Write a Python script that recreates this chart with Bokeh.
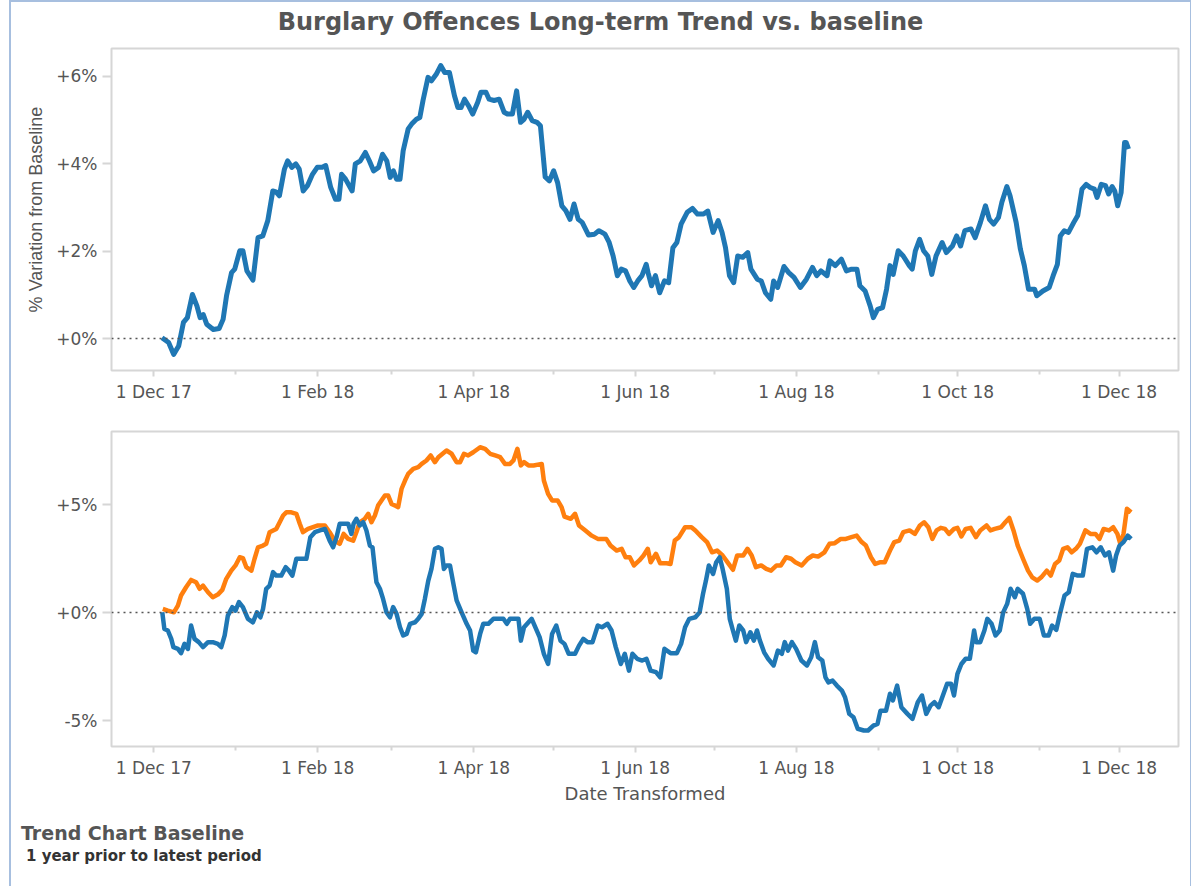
import pandas as pd
from bokeh.plotting import figure
from bokeh.models import Range1d, FixedTicker, Span, Div
from bokeh.layouts import column
from bokeh.embed import file_html
from bokeh.resources import INLINE

# ---------------- data (x = days since 1 Dec 2017, y = % variation) ----------------
top_day = [3.1, 5.6, 7.5, 9.4, 11.2, 12.7, 14.6, 16.3, 17.5, 18.7, 20.0, 22.5, 24.7, 26.2, 27.5, 29.4, 30.6, 32.5, 33.7, 35.2,
           37.5, 39.4, 41.2, 43.1, 45.0, 46.2, 47.5, 49.4, 50.6, 52.2, 53.7, 55.0, 56.5, 58.1, 60.0, 61.8, 63.7, 65.0, 66.9, 68.7,
           70.0, 71.0, 72.5, 75.0, 76.2, 78.1, 80.0, 81.5, 83.1, 85.0, 86.5, 88.1, 89.4, 90.6, 91.8, 93.1, 94.3, 96.2, 97.5, 99.3,
           100.6, 101.8, 103.7, 105.0, 106.8, 108.5, 110.0, 111.8, 113.7, 115.0, 116.2, 117.5, 119.0, 120.6, 122.5, 123.7, 125.6, 126.8, 128.7, 130.6,
           132.5, 133.7, 135.6, 137.2, 138.7, 140.0, 141.4, 143.1, 144.9, 146.2, 148.0, 149.6, 151.2, 152.7, 154.3, 155.8, 157.4, 158.9, 160.5, 162.0,
           164.4, 166.7, 168.3, 170.6, 172.2, 173.7, 175.3, 176.8, 178.4, 180.0, 181.5, 183.0, 184.6, 186.2, 186.9, 188.2, 189.7, 191.3, 193.1, 194.7,
           196.3, 197.8, 199.4, 201.7, 203.7, 205.6, 207.9, 209.5, 211.5, 213.4, 214.9, 216.2, 217.7, 219.3, 220.8, 222.7, 224.6, 225.8, 228.2, 229.7,
           231.3, 233.3, 234.4, 235.9, 238.3, 240.1, 242.1, 244.5, 246.8, 249.1, 250.7, 252.3, 254.6, 255.7, 257.7, 260.0, 261.9, 263.9, 265.9, 267.0,
           269.0, 270.9, 272.1, 273.7, 275.6, 277.1, 278.4, 279.6, 281.5, 283.4, 285.7, 286.8, 288.0, 289.6, 291.1, 292.7, 294.2, 295.8, 298.1, 299.7,
           302.0, 303.6, 305.1, 306.7, 309.0, 310.6, 312.6, 314.5, 316.0, 317.6, 319.4, 320.7, 322.6, 323.8, 326.1, 327.7, 329.2, 330.8, 333.1, 333.9,
           336.2, 338.6, 340.1, 341.7, 342.8, 344.3, 345.9, 347.9, 349.4, 351.0, 352.6, 354.1, 355.7, 356.7, 358.3, 359.9, 361.1, 362.4, 363.4, 364.5,
           365.8, 367.1, 367.7, 368.6]
top_val = [0.02, -0.09, -0.36, -0.17, 0.37, 0.48, 1.01, 0.75, 0.48, 0.55, 0.33, 0.21, 0.23, 0.44, 0.98, 1.51, 1.59, 2.01, 2.01, 1.55,
           1.34, 2.31, 2.35, 2.70, 3.38, 3.36, 3.27, 3.88, 4.07, 3.92, 4.00, 3.88, 3.38, 3.50, 3.76, 3.92, 3.92, 3.96, 3.46, 3.19,
           3.19, 3.76, 3.65, 3.38, 4.00, 4.07, 4.26, 4.07, 3.84, 3.92, 4.22, 4.07, 3.69, 3.84, 3.65, 3.65, 4.30, 4.80, 4.91, 5.02,
           5.06, 5.45, 5.98, 5.90, 6.05, 6.25, 6.09, 6.09, 5.56, 5.29, 5.29, 5.48, 5.33, 5.14, 5.41, 5.64, 5.64, 5.48, 5.45, 5.48,
           5.18, 5.14, 5.14, 5.67, 4.95, 5.02, 5.18, 4.99, 4.95, 4.87, 3.70, 3.61, 3.84, 3.57, 3.04, 2.93, 2.73, 3.08, 2.73, 2.66,
           2.37, 2.39, 2.47, 2.39, 2.20, 1.89, 1.44, 1.59, 1.55, 1.32, 1.17, 1.32, 1.44, 1.70, 1.51, 1.21, 1.44, 1.05, 1.32, 1.28,
           2.08, 2.20, 2.62, 2.89, 2.98, 2.85, 2.85, 2.92, 2.43, 2.70, 2.43, 2.08, 1.44, 1.28, 1.89, 1.86, 1.97, 1.59, 1.36, 1.32,
           1.05, 0.90, 1.32, 1.17, 1.65, 1.51, 1.40, 1.17, 1.36, 1.63, 1.44, 1.55, 1.44, 1.78, 1.67, 1.82, 1.55, 1.59, 1.59, 1.21,
           1.09, 0.75, 0.48, 0.67, 0.71, 1.13, 1.67, 1.47, 2.01, 1.89, 1.67, 1.59, 2.01, 2.27, 2.01, 1.89, 1.47, 1.89, 2.20, 1.97,
           2.12, 2.35, 2.12, 2.47, 2.51, 2.31, 2.66, 3.04, 2.73, 2.62, 2.77, 3.12, 3.48, 3.27, 2.66, 2.05, 1.67, 1.13, 1.13, 0.98,
           1.09, 1.17, 1.44, 1.70, 2.35, 2.47, 2.43, 2.66, 2.82, 3.42, 3.53, 3.46, 3.42, 3.23, 3.53, 3.50, 3.31, 3.48, 3.38, 3.04,
           3.34, 4.49, 4.49, 4.34]

prior_day = [3.4, 5.3, 7.6, 9.1, 10.3, 12.2, 14.1, 16.0, 17.3, 18.6, 20.5, 22.3, 24.2, 25.9, 27.4, 29.3, 30.9, 32.5, 33.7, 35.0,
             36.9, 38.1, 39.4, 41.3, 42.5, 43.8, 45.1, 46.3, 47.6, 48.9, 50.1, 52.0, 53.9, 55.2, 56.4, 58.3, 60.2, 62.1, 64.7, 66.5,
             68.4, 70.3, 71.8, 73.5, 75.4, 76.6, 77.9, 79.8, 81.1, 82.3, 83.6, 84.8, 86.1, 87.4, 88.6, 89.9, 91.2, 92.4, 93.7, 95.0,
             96.2, 98.1, 100.0, 101.3, 103.1, 104.7, 106.3, 107.6, 109.2, 110.7, 112.6, 114.5, 115.8, 117.3, 118.9, 120.8, 123.4, 125.3, 127.2, 129.1,
             131.0, 132.8, 134.7, 136.0, 137.5, 138.8, 140.0, 141.7, 143.6, 146.7, 147.5, 149.1, 150.6, 152.7, 154.2, 155.3, 157.7, 159.3, 160.8, 163.2,
             165.6, 167.9, 171.1, 172.7, 175.0, 176.9, 178.4, 180.0, 181.6, 183.6, 185.2, 186.8, 187.9, 189.9, 191.5, 193.9, 195.4, 197.0, 198.6, 200.9,
             203.3, 204.8, 207.2, 209.2, 211.1, 213.0, 215.1, 217.4, 219.0, 220.6, 222.9, 224.5, 226.1, 227.7, 229.7, 231.6, 233.4, 235.5, 237.1, 239.1,
             241.0, 242.6, 245.0, 247.3, 249.2, 251.2, 253.6, 255.5, 257.5, 259.8, 261.7, 263.8, 265.8, 267.7, 269.3, 271.2, 272.8, 274.8, 276.4, 278.4,
             280.0, 281.9, 283.4, 285.8, 287.8, 289.7, 291.3, 292.9, 294.4, 296.0, 297.6, 299.2, 300.7, 302.6, 303.9, 305.4, 307.0, 308.9, 310.9, 312.5,
             314.9, 316.4, 318.0, 320.4, 322.0, 323.5, 325.1, 326.7, 328.7, 330.6, 332.2, 334.1, 335.6, 337.7, 339.2, 340.8, 342.4, 343.9, 345.5, 347.1,
             348.7, 350.2, 352.3, 354.2, 356.1, 357.6, 359.2, 361.2, 362.8, 364.4, 365.5, 366.7, 368.0, 369.6]
prior_val = [0.17, 0.09, 0.01, 0.32, 0.79, 1.17, 1.51, 1.40, 1.10, 1.25, 0.94, 0.71, 0.83, 1.05, 1.56, 1.94, 2.18, 2.56, 2.52, 2.10,
             1.94, 2.49, 3.02, 3.10, 3.18, 3.72, 3.80, 3.87, 4.18, 4.49, 4.64, 4.64, 4.57, 4.11, 3.72, 3.87, 3.95, 4.03, 4.03, 3.72,
             3.33, 3.18, 3.64, 3.41, 3.33, 3.72, 4.18, 4.34, 4.57, 4.18, 4.49, 4.95, 5.19, 5.42, 5.42, 5.03, 4.95, 4.88, 5.73, 6.11,
             6.42, 6.65, 6.73, 6.88, 7.04, 7.27, 6.96, 7.19, 7.35, 7.50, 7.35, 6.96, 6.96, 7.35, 7.27, 7.42, 7.65, 7.58, 7.35, 7.27,
             7.19, 6.88, 6.88, 7.04, 7.58, 6.81, 6.96, 6.81, 6.81, 6.88, 6.11, 5.49, 5.19, 5.19, 4.88, 4.44, 4.34, 4.57, 4.03, 3.80,
             3.56, 3.41, 3.41, 3.10, 2.87, 2.95, 2.56, 2.56, 2.18, 2.41, 2.64, 2.95, 2.33, 2.72, 2.28, 2.28, 2.25, 3.33, 3.49, 3.95,
             3.95, 3.80, 3.49, 3.26, 2.79, 2.87, 2.64, 2.25, 1.98, 2.64, 2.64, 2.95, 2.64, 2.10, 2.18, 2.02, 1.94, 2.18, 2.18, 2.56,
             2.49, 2.33, 2.18, 2.49, 2.64, 2.59, 2.79, 3.18, 3.21, 3.41, 3.41, 3.49, 3.56, 3.26, 3.10, 2.56, 2.25, 2.33, 2.33, 2.87,
             3.26, 3.33, 3.72, 3.80, 3.64, 4.03, 4.18, 3.95, 3.41, 3.80, 3.92, 3.87, 3.64, 3.87, 3.92, 3.52, 3.87, 3.92, 3.49, 3.80,
             4.03, 3.80, 3.87, 3.95, 4.18, 4.38, 3.80, 3.10, 2.49, 1.94, 1.63, 1.48, 1.63, 1.94, 1.71, 2.25, 2.41, 2.95, 3.02, 2.79,
             2.95, 3.18, 3.80, 3.64, 3.64, 3.41, 3.87, 3.80, 3.95, 3.64, 3.18, 3.64, 4.80, 4.64]

curr_day = [3.2, 4.0, 5.3, 6.6, 7.4, 9.1, 10.3, 11.6, 12.9, 14.1, 15.4, 17.0, 18.6, 20.5, 22.3, 24.2, 25.5, 26.8, 28.0, 29.7,
            30.9, 32.2, 33.7, 35.6, 37.5, 39.0, 40.3, 41.3, 42.5, 43.8, 45.1, 46.3, 48.2, 49.9, 51.1, 52.4, 53.9, 55.8, 57.7, 59.2,
            60.9, 62.8, 64.7, 66.5, 67.8, 69.1, 70.3, 72.2, 73.5, 74.7, 75.6, 76.6, 77.9, 79.2, 80.4, 81.7, 82.7, 83.6, 84.2, 85.5,
            86.7, 88.0, 89.3, 90.5, 91.8, 93.1, 94.3, 95.6, 96.9, 98.8, 100.0, 101.3, 102.5, 103.8, 105.0, 106.3, 107.6, 108.8, 109.7, 110.7,
            112.0, 113.3, 114.5, 116.4, 118.3, 119.6, 120.8, 121.8, 123.4, 124.6, 126.5, 128.4, 130.3, 132.2, 133.5, 134.7, 136.2, 137.9, 138.8, 140.0,
            141.7, 142.9, 145.9, 147.5, 149.1, 150.6, 152.2, 153.8, 155.3, 156.9, 159.3, 160.8, 162.4, 164.0, 165.9, 167.9, 169.5, 171.6, 173.1, 174.7,
            176.6, 178.1, 179.7, 181.0, 182.8, 184.7, 186.3, 187.9, 189.9, 191.5, 193.1, 195.4, 197.8, 199.4, 200.9, 202.5, 204.8, 206.4, 207.7, 208.8,
            209.9, 211.5, 212.7, 214.0, 215.1, 216.7, 217.8, 219.0, 220.1, 221.4, 222.9, 224.0, 225.6, 226.9, 228.1, 229.2, 230.8, 232.3, 234.4, 236.0,
            237.5, 238.6, 239.8, 241.3, 242.9, 244.9, 247.0, 248.6, 250.0, 251.2, 252.8, 254.0, 255.1, 256.7, 258.3, 260.2, 261.4, 263.0, 264.6, 266.2,
            268.5, 270.1, 272.1, 273.7, 274.8, 276.9, 278.4, 279.5, 281.1, 282.7, 285.0, 286.9, 288.9, 290.5, 292.1, 293.7, 295.2, 296.8, 298.4, 300.0,
            301.5, 302.6, 303.9, 305.4, 307.0, 308.6, 310.2, 311.0, 312.5, 314.1, 315.2, 316.8, 318.3, 319.9, 321.2, 322.7, 324.0, 325.6, 326.7, 328.7,
            330.3, 331.4, 333.0, 335.0, 336.6, 338.4, 339.7, 341.3, 342.8, 344.4, 346.0, 347.5, 349.4, 351.3, 352.9, 354.9, 356.5, 358.1, 359.7, 361.2,
            362.8, 363.9, 365.2, 366.7, 368.3, 369.6]
curr_val = [0.01, -0.76, -0.83, -1.22, -1.60, -1.68, -1.88, -1.45, -1.68, -0.60, -1.22, -1.37, -1.60, -1.37, -1.37, -1.45, -1.60, -1.06, -0.14, 0.25,
            0.09, 0.48, 0.25, -0.29, -0.45, 0.01, -0.22, 0.17, 1.10, 1.25, 1.87, 1.71, 1.71, 2.10, 1.94, 1.71, 2.49, 2.49, 2.49, 3.49,
            3.72, 3.80, 3.87, 3.33, 3.02, 3.49, 4.11, 4.11, 4.11, 3.64, 4.13, 4.34, 4.03, 4.18, 3.80, 3.10, 3.02, 2.02, 1.40, 1.10,
            0.63, 0.01, -0.22, 0.25, -0.06, -0.68, -1.06, -0.99, -0.52, -0.45, -0.29, -0.06, 0.63, 1.48, 2.02, 2.95, 3.02, 2.95, 2.02, 2.18,
            2.18, 1.33, 0.56, 0.01, -0.52, -0.83, -1.76, -1.84, -0.99, -0.52, -0.52, -0.29, -0.29, -0.29, -0.52, -0.29, -0.29, -0.29, -1.30, -0.68,
            -0.45, -0.29, -1.14, -1.91, -2.38, -0.99, -0.60, -1.30, -1.45, -1.91, -1.91, -1.53, -1.22, -1.37, -1.37, -0.60, -0.68, -0.52, -0.83, -1.60,
            -2.38, -1.91, -2.69, -1.91, -2.14, -2.22, -2.14, -2.69, -2.76, -3.00, -1.68, -1.88, -1.88, -1.45, -0.68, -0.29, -0.22, 0.01, 0.87, 1.48,
            2.18, 1.79, 2.33, 2.56, 2.02, 1.10, -0.29, -0.83, -1.30, -0.60, -0.83, -1.37, -0.91, -1.30, -0.83, -1.30, -1.84, -2.14, -2.45, -1.76,
            -1.91, -1.37, -1.76, -1.37, -1.68, -2.22, -2.45, -2.07, -1.37, -2.07, -2.22, -3.00, -3.23, -3.15, -3.38, -3.61, -3.92, -4.69, -4.85, -5.38,
            -5.46, -5.46, -5.23, -5.15, -4.54, -4.54, -3.76, -4.07, -3.38, -4.38, -4.69, -4.92, -4.15, -3.84, -4.69, -4.31, -4.15, -4.38, -3.84, -3.30,
            -3.30, -3.84, -2.84, -2.38, -2.14, -2.14, -0.83, -1.37, -1.37, -0.83, -0.29, -0.52, -1.06, -0.83, 0.01, 0.40, 1.10, 0.71, 1.10, 0.87,
            0.17, -0.52, -0.29, -0.29, -1.06, -1.06, -0.60, -0.80, 0.01, 0.79, 0.94, 1.79, 1.71, 1.71, 2.95, 3.02, 2.79, 3.02, 2.64, 2.79,
            1.94, 2.64, 3.10, 3.26, 3.56, 3.41]

month_starts = ["2017-12-01", "2018-01-01", "2018-02-01", "2018-03-01", "2018-04-01", "2018-05-01", "2018-06-01",
                "2018-07-01", "2018-08-01", "2018-09-01", "2018-10-01", "2018-11-01", "2018-12-01"]
x_tick_labels = ["1 Dec 17", "1 Feb 18", "1 Apr 18", "1 Jun 18", "1 Aug 18", "1 Oct 18", "1 Dec 18"]
top_y_ticks = [0, 2, 4, 6]
top_y_labels = ["+0%", "+2%", "+4%", "+6%"]
bot_y_ticks = [-5, 0, 5]
bot_y_labels = ["-5%", "+0%", "+5%"]

# ---------------- styling ----------------
BLUE = "#1f77b4"
ORANGE = "#ff7f0e"
GRID = "#d6d6d6"
TXT = "#555555"
FONT = "DejaVu Sans"
W = 1169

base = pd.Timestamp("2017-12-01")
month_days = [(pd.Timestamp(d) - base).days for d in month_starts]
major_days = month_days[0::2]
minor_days = month_days[1::2]


def style_common(p):
    p.xgrid.visible = False
    p.ygrid.visible = False
    p.outline_line_color = GRID
    p.outline_line_width = 2
    p.background_fill_color = "white"
    p.border_fill_color = "white"
    ax = p.xaxis[0]
    ax.ticker = FixedTicker(ticks=major_days, minor_ticks=minor_days)
    ax.major_label_overrides = {d: l for d, l in zip(major_days, x_tick_labels)}
    ax.axis_line_color = None
    ax.major_tick_in = 0
    ax.major_tick_out = 6
    ax.minor_tick_in = 0
    ax.minor_tick_out = 4
    ax.major_tick_line_color = GRID
    ax.minor_tick_line_color = GRID
    ax.major_tick_line_width = 2
    ax.minor_tick_line_width = 2
    ax.major_label_standoff = 5
    ax.major_label_text_font = FONT
    ax.major_label_text_font_size = "17px"
    ax.major_label_text_color = TXT
    ay = p.yaxis[0]
    ay.axis_line_color = None
    ay.minor_tick_line_color = None
    ay.major_tick_in = 0
    ay.major_tick_out = 9
    ay.major_tick_line_color = GRID
    ay.major_tick_line_width = 2
    ay.major_label_standoff = 5
    ay.major_label_text_font = FONT
    ay.major_label_text_font_size = "17px"
    ay.major_label_text_color = TXT
    p.add_layout(Span(location=0, dimension="width", line_color="#555555",
                      line_width=1.5, line_dash="2 4"))


title = Div(
    text='<div style="font-family:\'DejaVu Sans\';font-weight:bold;font-size:24px;'
         'color:#555555;text-align:center;line-height:26px;margin-top:2px;width:%dpx">'
         'Burglary Offences Long-term Trend vs. baseline</div>' % W,
    width=W, height=34)

p1 = figure(width=W, height=374, x_range=Range1d(-16, 387.5), y_range=Range1d(-0.73, 6.64),
            output_backend="svg", toolbar_location=None,
            min_border_left=92, min_border_right=2, min_border_top=2, min_border_bottom=50)
style_common(p1)
p1.yaxis[0].ticker = FixedTicker(ticks=top_y_ticks)
p1.yaxis[0].major_label_overrides = dict(zip(top_y_ticks, top_y_labels))
p1.yaxis[0].axis_label = "% Variation from Baseline"
p1.yaxis[0].axis_label_text_font = "Liberation Sans"
p1.yaxis[0].axis_label_text_font_style = "normal"
p1.yaxis[0].axis_label_text_font_size = "18px"
p1.yaxis[0].axis_label_text_color = TXT
p1.yaxis[0].axis_label_standoff = 7
p1.line(top_day, top_val, line_color=BLUE, line_width=5, line_join="round")

p2 = figure(width=W, height=396, x_range=Range1d(-16, 387.5), y_range=Range1d(-6.2, 8.38),
            output_backend="svg", toolbar_location=None,
            min_border_left=100, min_border_right=2, min_border_top=11, min_border_bottom=70)
style_common(p2)
p2.yaxis[0].ticker = FixedTicker(ticks=bot_y_ticks)
p2.yaxis[0].major_label_overrides = dict(zip(bot_y_ticks, bot_y_labels))
p2.xaxis[0].axis_label = "Date Transformed"
p2.xaxis[0].axis_label_text_font = FONT
p2.xaxis[0].axis_label_text_font_style = "normal"
p2.xaxis[0].axis_label_text_font_size = "18px"
p2.xaxis[0].axis_label_text_color = TXT
p2.xaxis[0].axis_label_standoff = 2
p2.line(prior_day, prior_val, line_color=ORANGE, line_width=4.5, line_join="round")
p2.line(curr_day, curr_val, line_color=BLUE, line_width=4.5, line_join="round")

footer = Div(
    text='<div style="font-family:\'DejaVu Sans\';font-weight:bold;font-size:19px;color:#555555;'
         'line-height:22px;margin:1px 0 0 5px">Trend Chart Baseline</div>'
         '<div style="font-family:\'DejaVu Sans\';font-weight:bold;font-size:15px;color:#333333;'
         'line-height:20px;margin:2px 0 0 10px">1 year prior to latest period</div>',
    width=W, height=60)

layout = column(title, p1, p2, footer, spacing=0,
                styles={"margin-left": "9px", "border-left": "2px solid #a7bfdf",
                        "border-top": "2px solid #a7bfdf", "border-right": "2px solid #a7bfdf"})

open("out.html", "w").write(file_html(layout, INLINE))
